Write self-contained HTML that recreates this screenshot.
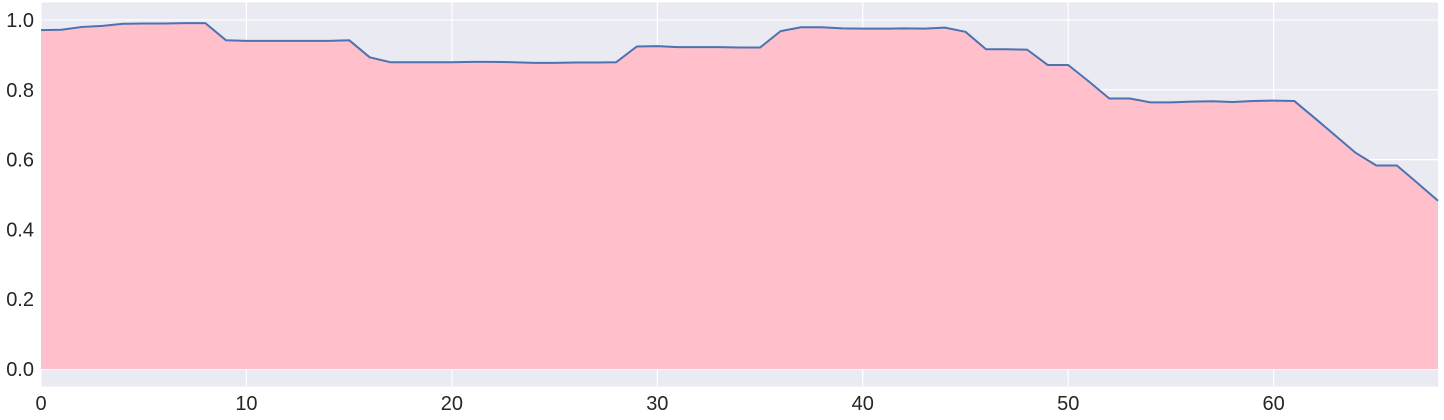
<!DOCTYPE html>
<html><head><meta charset="utf-8"><style>
html,body{margin:0;padding:0;background:#fff;}
svg{display:block;font-family:"Liberation Sans",sans-serif;}
</style></head><body>
<svg id="chart" width="1444" height="420" xmlns="http://www.w3.org/2000/svg"></svg>
<script>
const yValues=[0.971,0.972,0.980,0.983,0.989,0.990,0.990,0.991,0.991,0.942,0.940,0.940,0.940,0.940,0.940,0.942,0.893,0.879,0.879,0.879,0.879,0.880,0.880,0.879,0.877,0.877,0.878,0.878,0.879,0.924,0.925,0.922,0.922,0.922,0.921,0.921,0.968,0.979,0.979,0.976,0.975,0.975,0.976,0.975,0.978,0.966,0.916,0.916,0.915,0.871,0.871,0.824,0.775,0.775,0.764,0.764,0.766,0.767,0.765,0.768,0.769,0.768,0.719,0.669,0.619,0.583,0.583,0.533,0.482];
const xTicks=[0,10,20,30,40,50,60];
const yTicks=[0.0,0.2,0.4,0.6,0.8,1.0];
const NS="http://www.w3.org/2000/svg";
const svg=document.getElementById('chart');
const L=41,R=1438,T=2.5,B=386.5,xMin=0,xMax=68,yMin=-0.05,yMax=1.05;
const xs=v=>L+(v-xMin)/(xMax-xMin)*(R-L);
const ys=v=>B-(v-yMin)/(yMax-yMin)*(B-T);
function mk(tag,attrs){const e=document.createElementNS(NS,tag);for(const k in attrs)e.setAttribute(k,attrs[k]);svg.appendChild(e);return e;}
const bg=mk('rect',{x:L,y:T,width:R-L,height:B-T,fill:'#EAEAF2'});


xTicks.forEach(t=>{
 const g=mk('line',{x1:xs(t),x2:xs(t),y1:T,y2:B,stroke:'#fff','stroke-width':1.2});
 
 
 const tx=mk('text',{x:xs(t),y:410,'text-anchor':'middle','font-size':20,fill:'#262626'});
 tx.textContent=t;
 
 
});
yTicks.forEach(t=>{
 const g=mk('line',{x1:L,x2:R,y1:ys(t),y2:ys(t),stroke:'#fff','stroke-width':1.2});
 
 
 const tx=mk('text',{x:34,y:ys(t)+7,'text-anchor':'end','font-size':20,fill:'#262626'});
 tx.textContent=t.toFixed(1);
 
 
});
let pts=yValues.map((v,i)=>xs(i)+','+ys(v));
const area=mk('polygon',{points:xs(0)+','+ys(0)+' '+pts.join(' ')+' '+xs(yValues.length-1)+','+ys(0),fill:'#FFC0CB'});


const line=mk('polyline',{points:pts.join(' '),fill:'none',stroke:'#4C72B0','stroke-width':2,'stroke-linejoin':'round'});


</script>
</body></html>
